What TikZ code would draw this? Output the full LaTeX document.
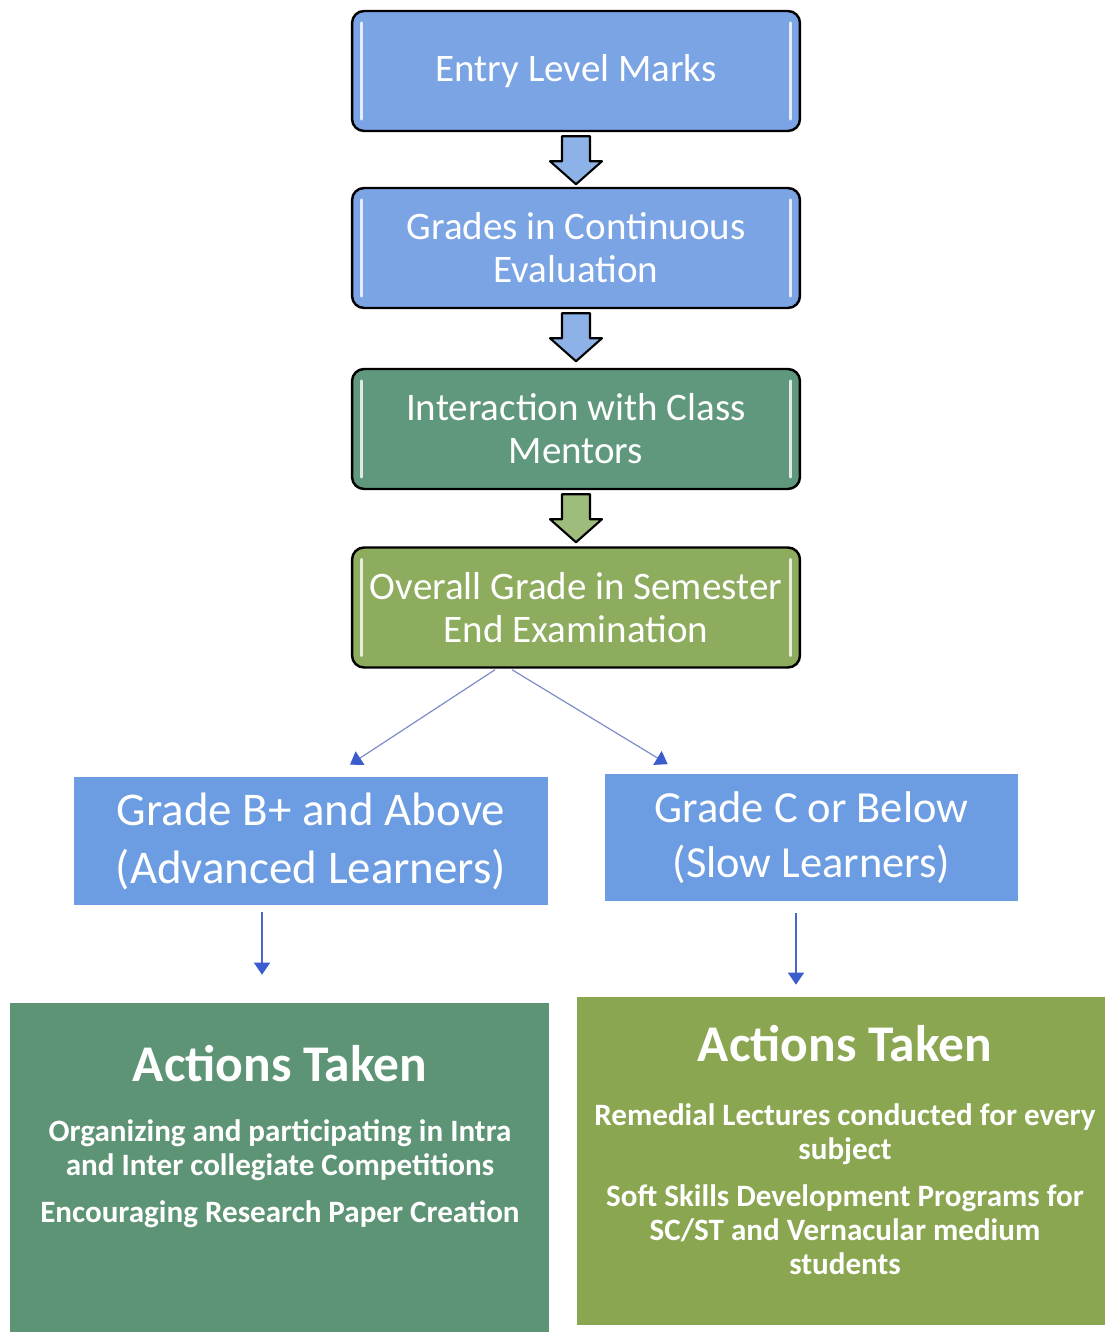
\documentclass[tikz,border=0pt]{standalone}
\usepackage{fontspec}
\setmainfont{Carlito}
\usetikzlibrary{arrows.meta}

\definecolor{boxblue}{RGB}{122,164,228}
\definecolor{boxteal}{RGB}{96,152,126}
\definecolor{boxolive}{RGB}{142,172,94}
\definecolor{arrblue}{RGB}{140,178,232}
\definecolor{arrgreen}{RGB}{158,188,124}
\definecolor{gradeblue}{RGB}{108,156,226}
\definecolor{actgreen}{RGB}{94,148,118}
\definecolor{actolive}{RGB}{138,166,80}
\definecolor{lineblue}{RGB}{128,142,200}
\definecolor{tipblue}{RGB}{58,92,205}

\tikzset{
  stepbox/.style={draw=black, line width=1.4pt, rounded corners=0.24cm,
    minimum width=8.96cm, minimum height=2.4cm, inner sep=0pt, align=center,
    text=white, font=\fontsize{22.2}{24.5}\selectfont},
  gradebox/.style={fill=gradeblue, minimum height=2.56cm, inner sep=0pt,
    align=center, text=white, font=\fontsize{26.7}{33}\selectfont},
  actbox/.style={inner sep=0pt},
  acttitle/.style={text=white, font=\bfseries\fontsize{29.3}{32}\selectfont},
  actbody/.style={text=white, align=center, font=\bfseries\fontsize{17.7}{19.4}\selectfont},
  thinarr/.style={-{Triangle[length=0.24cm,width=0.32cm,color=tipblue]}, line width=0.7pt},
  blockarr/.style={draw=black, line width=1.2pt, line join=round},
  shine/.style={white, opacity=0.8, line width=1.6pt, line cap=round},
}

\begin{document}
\begin{tikzpicture}[x=0.02cm, y=-0.02cm]
\useasboundingbox (0,0) rectangle (1105,1332);

%Steps
\node[stepbox, fill=boxblue] (entry) at (576,71) {Entry Level Marks};
\node[stepbox, fill=boxblue] (cont) at (576,248) {Grades in Continuous\\Evaluation};
\node[stepbox, fill=boxteal] (mentor) at (576,429) {Interaction with Class\\Mentors};
\node[stepbox, fill=boxolive] (overall) at (576,607.5) {Overall Grade in Semester\\End Examination};

%%Shine
\foreach \n in {entry, cont, mentor, overall}
{
\draw[shine] ([shift={(11,13)}]\n.north west) -- ([shift={(11,-13)}]\n.south west);
\draw[shine] ([shift={(-11,13)}]\n.north east) -- ([shift={(-11,-13)}]\n.south east);
}

%%Block arrows
\foreach \a/\c in {entry/arrblue, cont/arrblue, mentor/arrgreen}
\draw[blockarr, fill=\c, shift={(\a.south)}]
(-14,4) -- (14,4) -- (14,29) -- (26,29) -- (0,52) -- (-26,29) -- (-14,29) -- cycle;

% Grades
\node[gradebox, minimum width=9.48cm] (gradeB) at (311,841) {Grade B+ and Above\\(Advanced Learners)};
\node[gradebox, minimum width=8.26cm, font=\fontsize{25.3}{31}\selectfont] (gradeC) at (811.5,837.5) {Grade C or Below\\(Slow Learners)};

\draw[thinarr, lineblue] ([shift={(-81,1)}]overall.south) -- ([shift={(39,-12)}]gradeB.north);
\draw[thinarr, lineblue] ([shift={(-64,1)}]overall.south) -- ([shift={(63,-9)}]gradeC.north west);

% Actions
\node[actbox, fill=actgreen, minimum width=10.78cm, minimum height=6.58cm] (actL) at (279.5,1167.5) {};
\node[actbox, fill=actolive, minimum width=10.56cm, minimum height=6.56cm] (actR) at (841,1161) {};

\draw[thinarr, tipblue!80!lineblue] ([shift={(-49,7)}]gradeB.south) -- ([shift={(-17.5,-28)}]actL.north);
\draw[thinarr, tipblue!80!lineblue] ([shift={(-15.5,11)}]gradeC.south) -- ([shift={(-45,-12)}]actR.north);

\node[acttitle] (actLt) at (280,1064) {Actions Taken};
\node[actbody] (actLb) at (280,1174) {Organizing and participating in Intra\\and Inter collegiate Competitions\\[7.4pt]Encouraging Research Paper Creation};

\node[acttitle] (actRt) at (845,1044) {Actions Taken};
\node[actbody] (actRb) at (845,1189) {Remedial Lectures conducted for every\\subject\\[7.4pt]Soft Skills Development Programs for\\SC/ST and Vernacular medium\\students};
\end{tikzpicture}
\end{document}
